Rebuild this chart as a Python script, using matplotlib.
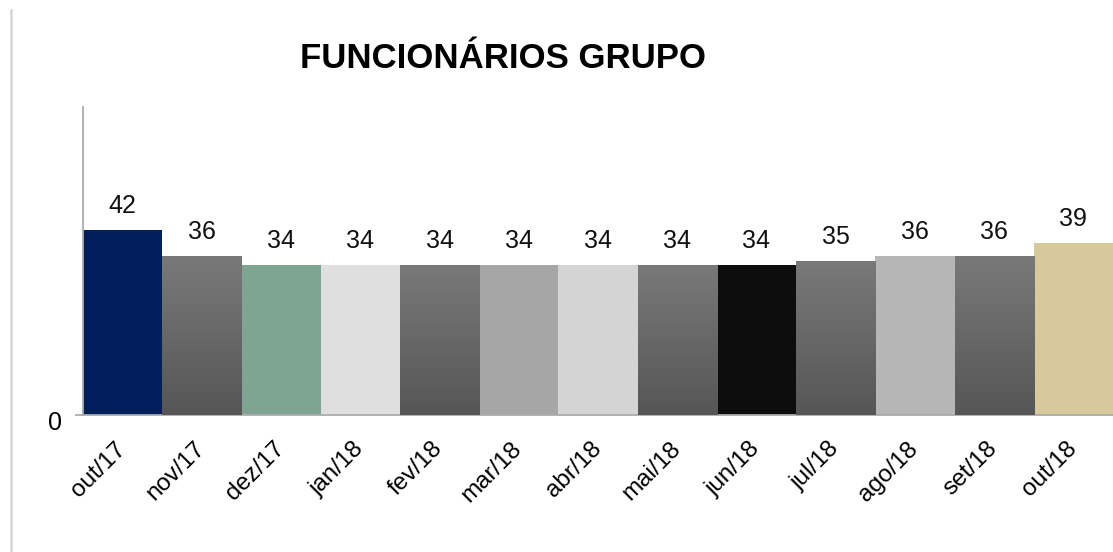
import matplotlib
matplotlib.use("Agg")
import matplotlib.pyplot as plt
import numpy as np
from matplotlib.colors import LinearSegmentedColormap
from matplotlib.lines import Line2D
import matplotlib.transforms as mtransforms

categories = ["out/17", "nov/17", "dez/17", "jan/18", "fev/18", "mar/18", "abr/18",
              "mai/18", "jun/18", "jul/18", "ago/18", "set/18", "out/18"]
values = [42, 36, 34, 34, 34, 34, 34, 34, 34, 35, 36, 36, 39]
title = "FUNCIONÁRIOS GRUPO"

bar_colors = ["#001F5B", None, "#7EA591", "#DFDFDF", None, "#A6A6A6", "#D4D4D4",
              None, "#0D0D0D", None, "#B6B6B6", None, "#D7C99B"]
grad_top, grad_bottom = "#797979", "#565656"

plt.rcParams['font.family'] = ['Liberation Sans', 'DejaVu Sans']

fig = plt.figure(figsize=(11.13, 5.52), dpi=100)
W, H = 1113, 552
ax = fig.add_axes([83 / W, (H - 415) / H, (1113 - 83) / W, (415 - 106.6) / H])

x = np.arange(len(categories))
bars = ax.bar(x, values, width=1.0, color=[c if c else grad_bottom for c in bar_colors],
              linewidth=0, zorder=2)

cmap = LinearSegmentedColormap.from_list("g", [grad_bottom, grad_top])
grad = np.linspace(0, 1, 256).reshape(-1, 1)
for b, c in zip(bars, bar_colors):
    if c is None:
        x0, w, h = b.get_x(), b.get_width(), b.get_height()
        im = ax.imshow(grad, cmap=cmap, origin='lower', aspect='auto',
                       extent=[x0, x0 + w, 0, h], zorder=3, interpolation='bilinear')
        im.set_clip_path(b)

for xi, v in zip(x, values):
    ax.annotate(str(v), (xi, v), xytext=(0, 12.2), textcoords='offset points',
                ha='center', va='baseline', fontsize=18, color='#111111', zorder=4)

ax.set_xlim(-0.5, len(categories) - 0.5)
ax.set_ylim(0, 70)
ax.set_yticks([0])
ax.set_yticklabels(["0"], fontsize=18)
ax.tick_params(axis='y', length=6, width=1.2, color='#A6A6A6', pad=9)
for lab in ax.get_yticklabels():
    lab.set_transform(lab.get_transform() +
                      mtransforms.ScaledTranslation(0, -4 / 72, fig.dpi_scale_trans))
ax.set_xticks(x)
ax.set_xticklabels(categories, rotation=45, ha='right', va='center',
                   rotation_mode='anchor', fontsize=17.5)
ax.tick_params(axis='x', length=0, pad=22)

for s in ['top', 'right']:
    ax.spines[s].set_visible(False)
for s in ['left', 'bottom']:
    ax.spines[s].set_color('#ABABAB')
    ax.spines[s].set_linewidth(1.3)
ax.set_facecolor('none')

fig.text(503.5 / W, 1 - 59 / H, title, ha='center', va='center',
         fontsize=25, fontweight='bold', color='black')

fig.add_artist(Line2D([11 / W, 11 / W], [0, 1 - 10 / H], transform=fig.transFigure,
                      color='#D6D6D6', linewidth=1.8))

fig.savefig("out.png", dpi=100)
